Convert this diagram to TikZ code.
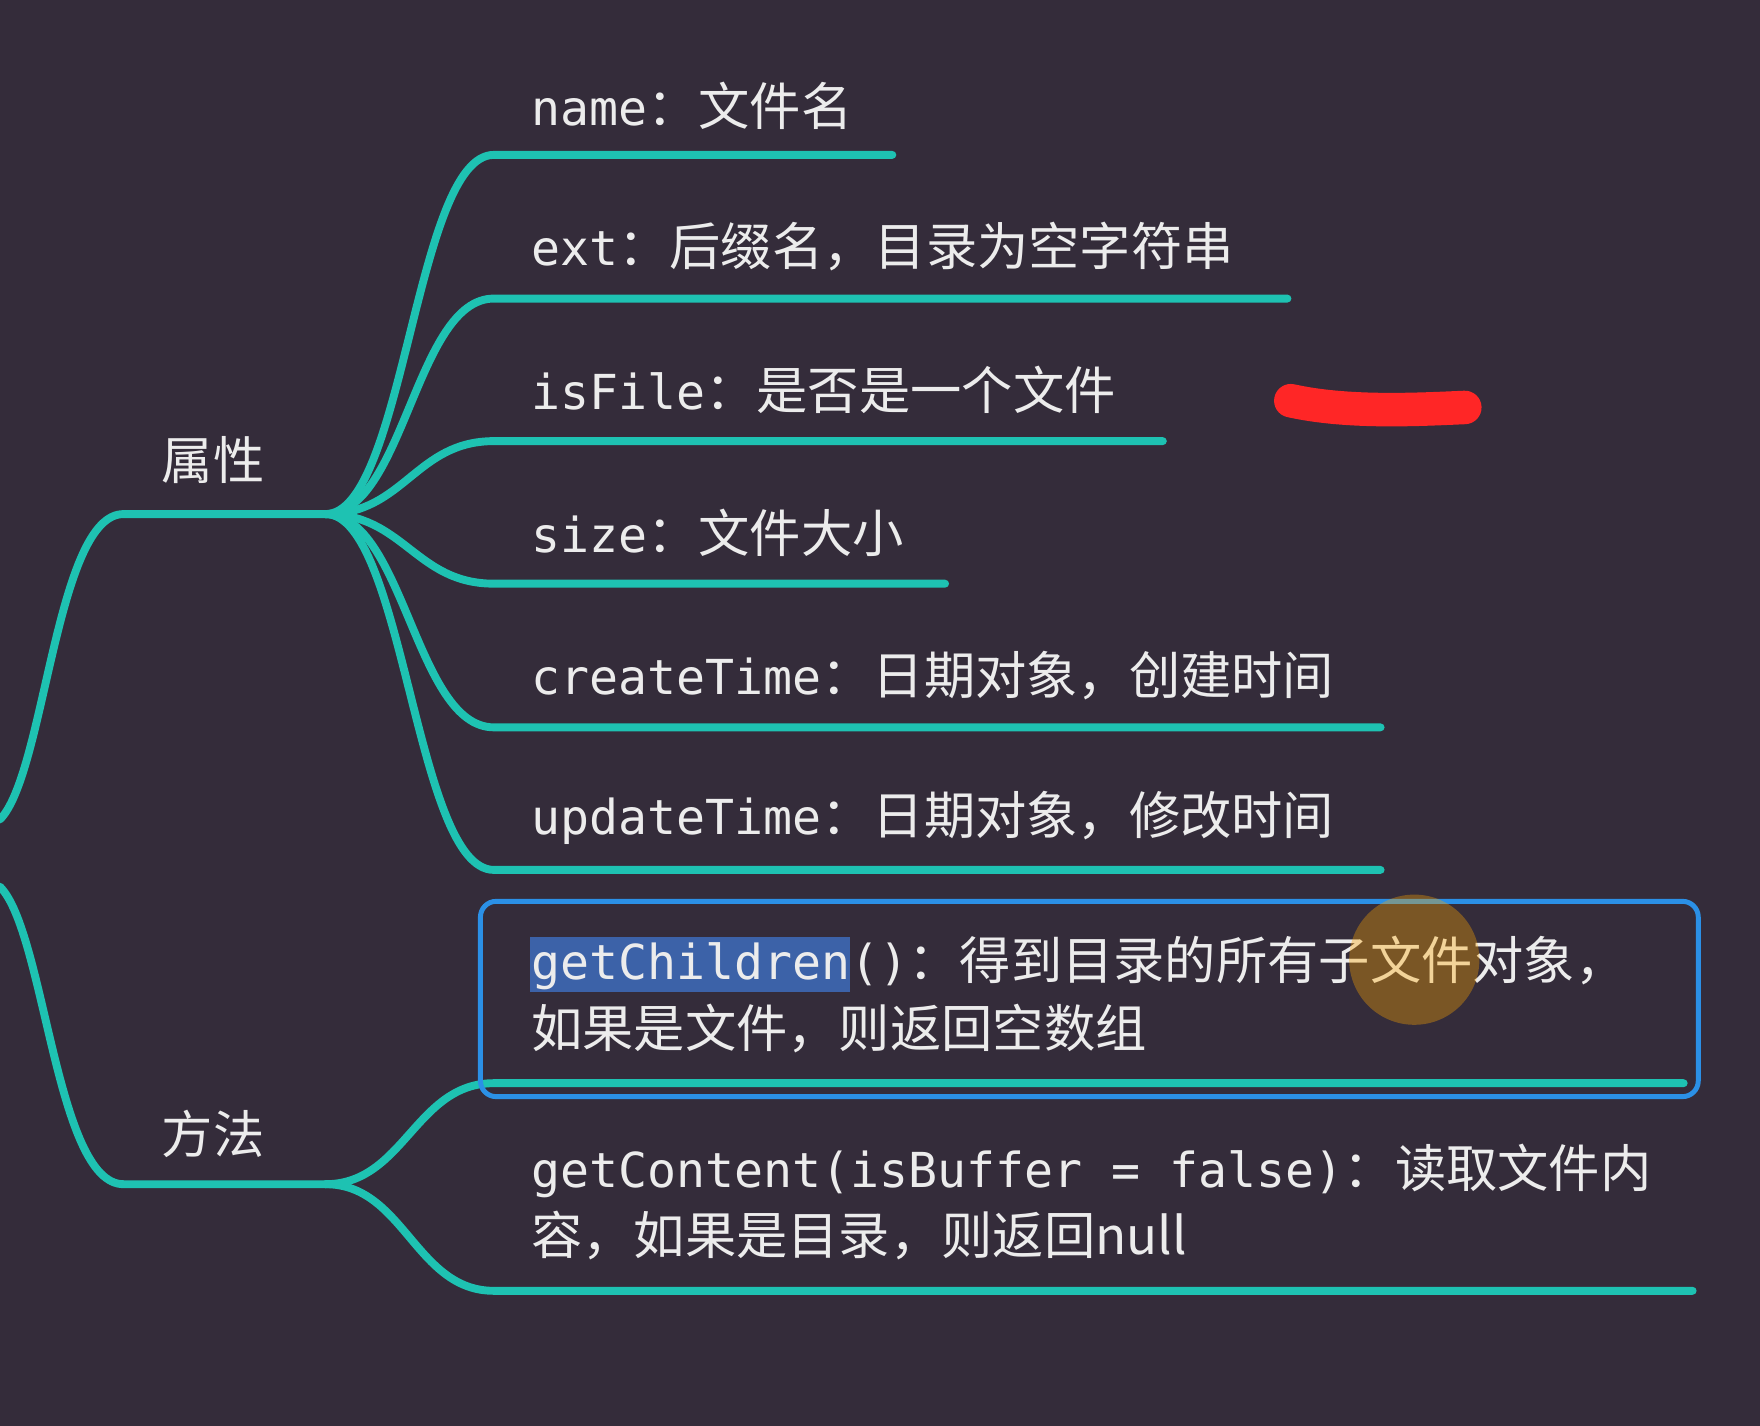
\documentclass[tikz,border=0pt]{standalone}
\usepackage{fontspec}
\setmainfont{Noto Sans CJK SC}
\setmonofont[Scale=0.94]{DejaVu Sans Mono}
\newfontfamily\cjk{Noto Sans CJK SC}
\definecolor{bg}{HTML}{342C3A}
\definecolor{teal}{HTML}{1EC2B2}
\definecolor{txt}{HTML}{ECECEC}
\definecolor{boxblue}{HTML}{2B90E6}
\definecolor{hl}{HTML}{3C62A8}
\tikzset{x=0.02cm,y=-0.02cm,
 br/.style={draw=teal,line width=4pt,line cap=round},
 lbl/.style={anchor=west,text=txt,font=\fontsize{26}{34}\selectfont,inner sep=0pt},
 cat/.style={text=txt,font=\fontsize{26}{30}\selectfont\cjk,inner sep=0pt}}
\begin{document}
\begin{tikzpicture}
\fill[bg] (0,0) rectangle (1568,1270);
\useasboundingbox (0,0) rectangle (1568,1270);
% root
\coordinate (r1) at (0,730);
\coordinate (r2) at (0,790);
\coordinate (A) at (290,458);
\coordinate (M) at (290,1055);
\draw[br] (r1) .. controls (40,690) and (50,458) .. (110,458) -- (A);
\draw[br] (r2) .. controls (40,830) and (50,1055) .. (110,1055) -- (M);
\node[cat] (attr) at (190,410) {属性};
\node[cat] (meth) at (190,1010) {方法};
% attribute branches
\foreach \y/\e in {138/795,266/1147,393/1036,520/842,648/1230,775/1230}{
 \draw[br] (A) .. controls (360,458) and (370,\y) .. (440,\y) -- (\e,\y);
}
\draw[br] (M) .. controls (360,1055) and (370,965) .. (440,965) -- (1500,965);
\draw[br] (M) .. controls (360,1055) and (370,1150) .. (440,1150) -- (1508,1150);
% highlight
\fill[hl] (472,835) rectangle (757,884);
% texts
\node[lbl] (n1) at (473,94) {\texttt{name}：文件名};
\node[lbl] (n2) at (473,220) {\texttt{ext}：后缀名，目录为空字符串};
\node[lbl] (n3) at (473,347) {\texttt{isFile}：是否是一个文件};
\node[lbl] (n4) at (473,475) {\texttt{size}：文件大小};
\node[lbl] (n5) at (473,602) {\texttt{createTime}：日期对象，创建时间};
\node[lbl] (n6) at (473,729) {\texttt{updateTime}：日期对象，修改时间};
\node[lbl,align=left,anchor=north west] (m1) at (473,834) {\texttt{getChildren()}：得到目录的所有子文件对象，\\如果是文件，则返回空数组};
\node[lbl,align=left,anchor=north west] (m2) at (473,1019) {\texttt{getContent(isBuffer = false)}：读取文件内\\容，如果是目录，则返回null};
% box
\draw[boxblue,line width=2.5pt,rounded corners=8pt] (428,803) rectangle (1513,977);
% decorations
\fill[orange!70!yellow,opacity=0.35] (1260,855) circle (58);
\draw[red!85!white,line width=17pt,line cap=round] (1150,357) .. controls (1200,368) and (1260,365) .. (1305,363);
\end{tikzpicture}
\end{document}
